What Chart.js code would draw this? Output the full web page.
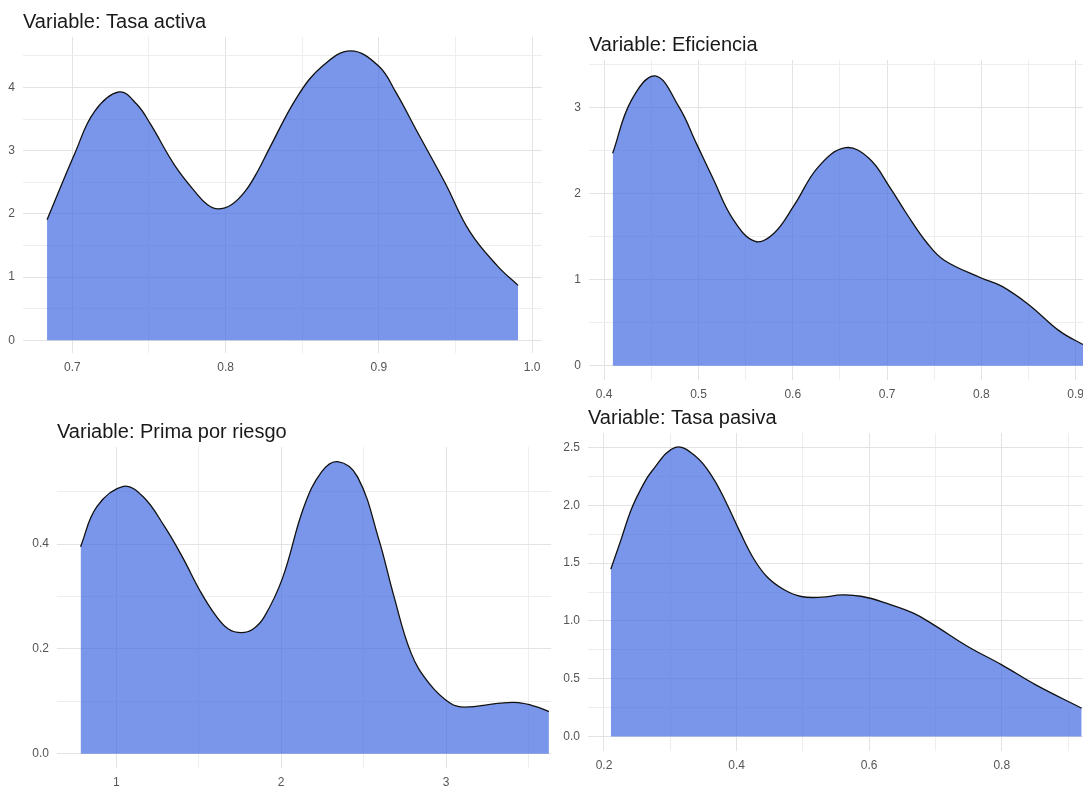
<!DOCTYPE html>
<html>
<head>
<meta charset="utf-8">
<script src="https://cdn.jsdelivr.net/npm/chart.js@4/dist/chart.umd.min.js"></script>
<style>
  html, body { margin: 0; padding: 0; background: #ffffff; overflow: hidden; width: 1083px; height: 787px; }
  .panel { position: absolute; }
  #clip3 { position: absolute; left: 0; top: 0; width: 551px; height: 787px; overflow: hidden; }
</style>
</head>
<body>
<div class="panel" id="p1" style="left:-17px; top:12px;"><canvas id="c1" width="559" height="371"></canvas></div>
<div class="panel" id="p2" style="left:549px; top:35px;"><canvas id="c2" width="559" height="375"></canvas></div>
<div id="clip3"><div class="panel" id="p3" style="left:17px; top:422px;"><canvas id="c3" width="555" height="376"></canvas></div></div>
<div class="panel" id="p4" style="left:548px; top:408px;"><canvas id="c4" width="560" height="373"></canvas></div>
<script>
// ---------- Data ----------
const titles = ["Variable: Tasa activa", "Variable: Eficiencia", "Variable: Prima por riesgo", "Variable: Tasa pasiva"];

const activaX = [0.6835, 0.7018, 0.7144, 0.7304, 0.7419, 0.7510, 0.7670, 0.7808, 0.7880, 0.7950, 0.8040, 0.8128, 0.8210, 0.8288, 0.8471, 0.8632, 0.8815, 0.8998, 0.9112, 0.9250, 0.9432, 0.9593, 0.9776, 0.9908];
const activaY = [1.91, 2.97, 3.62, 3.93, 3.74, 3.42, 2.76, 2.33, 2.15, 2.08, 2.15, 2.36, 2.68, 3.05, 3.87, 4.34, 4.58, 4.34, 3.92, 3.30, 2.49, 1.72, 1.17, 0.87];

const eficX = [0.409, 0.4288, 0.454, 0.4793, 0.498, 0.5153, 0.5369, 0.5603, 0.5801, 0.6017, 0.6269, 0.6558, 0.681, 0.7026, 0.7206, 0.7422, 0.7602, 0.7999, 0.8215, 0.8503, 0.8827, 0.9072, 0.912];
const eficY = [2.47, 3.085, 3.37, 3.01, 2.58, 2.18, 1.70, 1.445, 1.54, 1.87, 2.31, 2.535, 2.41, 2.08, 1.77, 1.43, 1.23, 1.02, 0.925, 0.71, 0.405, 0.25, 0.23];

const primaX = [0.783, 0.881, 1.043, 1.163, 1.293, 1.401, 1.509, 1.600, 1.680, 1.758, 1.830, 1.899, 2.008, 2.138, 2.246, 2.343, 2.463, 2.593, 2.679, 2.788, 2.896, 3.026, 3.113, 3.329, 3.438, 3.546, 3.624];
const primaY = [0.395, 0.471, 0.510, 0.490, 0.433, 0.375, 0.310, 0.265, 0.238, 0.231, 0.238, 0.262, 0.335, 0.471, 0.538, 0.557, 0.528, 0.408, 0.306, 0.192, 0.135, 0.0965, 0.089, 0.0965, 0.0975, 0.090, 0.0806];

const pasivaX = [0.2103, 0.2256, 0.241, 0.2564, 0.2718, 0.3077, 0.3385, 0.3641, 0.3846, 0.4051, 0.4256, 0.4462, 0.4718, 0.4974, 0.5282, 0.559, 0.5897, 0.6256, 0.6667, 0.6974, 0.7487, 0.8, 0.8513, 0.9205];
const pasivaY = [1.448, 1.701, 1.961, 2.148, 2.292, 2.50, 2.422, 2.240, 2.020, 1.770, 1.540, 1.380, 1.269, 1.211, 1.205, 1.225, 1.211, 1.153, 1.067, 0.966, 0.779, 0.620, 0.447, 0.245];

// ---------- Tick values / labels ----------
const activaXTicks = [0.7, 0.8, 0.9, 1.0];          const activaXLabels = ["0.7", "0.8", "0.9", "1.0"];
const activaXMinor = [0.75, 0.85, 0.95];
const activaYTicks = [0, 1, 2, 3, 4];               const activaYLabels = ["0", "1", "2", "3", "4"];
const activaYMinor = [0.5, 1.5, 2.5, 3.5, 4.5];

const eficXTicks = [0.4, 0.5, 0.6, 0.7, 0.8, 0.9]; const eficXLabels = ["0.4", "0.5", "0.6", "0.7", "0.8", "0.9"];
const eficXMinor = [0.45, 0.55, 0.65, 0.75, 0.85];
const eficYTicks = [0, 1, 2, 3];                    const eficYLabels = ["0", "1", "2", "3"];
const eficYMinor = [0.5, 1.5, 2.5, 3.5];

const primaXTicks = [1, 2, 3];                      const primaXLabels = ["1", "2", "3"];
const primaXMinor = [1.5, 2.5, 3.5];
const primaYTicks = [0, 0.2, 0.4];                  const primaYLabels = ["0.0", "0.2", "0.4"];
const primaYMinor = [0.1, 0.3, 0.5];

const pasivaXTicks = [0.2, 0.4, 0.6, 0.8];          const pasivaXLabels = ["0.2", "0.4", "0.6", "0.8"];
const pasivaXMinor = [0.3, 0.5, 0.7, 0.9];
const pasivaYTicks = [0, 0.5, 1.0, 1.5, 2.0, 2.5];  const pasivaYLabels = ["0.0", "0.5", "1.0", "1.5", "2.0", "2.5"];
const pasivaYMinor = [0.25, 0.75, 1.25, 1.75, 2.25];

// ---------- Axis ranges ----------
const activaXRange = [0.6678, 1.0064], activaYRange = [-0.2, 4.8];
const eficXRange = [0.3839, 0.9343],   eficYRange = [-0.166, 3.555];
const primaXRange = [0.640, 3.764],    primaYRange = [-0.027, 0.585];
const pasivaXRange = [0.1759, 0.9602], pasivaYRange = [-0.125, 2.625];

// ---------- Drawing ----------
const Y_W = 40, X_H = 30;
const FONT = "'Liberation Sans', Arial, Helvetica, sans-serif";
const near = (a, b) => Math.abs(a - b) < 1e-9;

function panel(canvasId, title, xs, ys, xr, yr, xMaj, xLab, xMin, yMaj, yLab, yMin) {
  const pts = xs.map((x, i) => ({ x: x, y: ys[i] }));
  const labelOf = (v, maj, lab) => { const i = maj.findIndex(a => near(a, v)); return i >= 0 ? lab[i] : ""; };
  const gridCol = maj => ctx => (ctx.tick && maj.some(a => near(a, ctx.tick.value))) ? "#e3e3e3" : "#eeeeee";
  const setTicks = (maj, min) => s => { s.ticks = maj.concat(min).sort((a, b) => a - b).map(v => ({ value: v })); };
  new Chart(document.getElementById(canvasId), {
    type: "line",
    data: { datasets: [{
      data: pts,
      borderColor: "#111111",
      borderWidth: 1.3,
      backgroundColor: "rgba(65,105,225,0.7)",
      fill: "origin",
      pointRadius: 0,
      tension: 0.4
    }] },
    options: {
      responsive: false,
      animation: false,
      events: [],
      layout: { padding: 0 },
      plugins: {
        legend: { display: false },
        tooltip: { enabled: false },
        title: {
          display: true, text: title, align: "start", fullSize: false,
          color: "#1a1a1a",
          font: { family: FONT, size: 20, weight: "normal", lineHeight: 1 },
          padding: { top: 0, bottom: 5 }
        }
      },
      scales: {
        x: {
          type: "linear", min: xr[0], max: xr[1], bounds: "data",
          afterBuildTicks: setTicks(xMaj, xMin),
          afterFit: s => { s.height = X_H; s.paddingLeft = 0; s.paddingRight = 0; },
          ticks: { autoSkip: false, maxRotation: 0, padding: 7, color: "#555555",
                   font: { family: FONT, size: 12 }, callback: v => labelOf(v, xMaj, xLab) },
          grid: { color: gridCol(xMaj), lineWidth: 1, drawTicks: false },
          border: { display: false }
        },
        y: {
          type: "linear", min: yr[0], max: yr[1], bounds: "data",
          afterBuildTicks: setTicks(yMaj, yMin),
          afterFit: s => { s.width = Y_W; s.paddingTop = 0; s.paddingBottom = 0; },
          ticks: { autoSkip: false, padding: 8, color: "#555555",
                   font: { family: FONT, size: 12 }, callback: v => labelOf(v, yMaj, yLab) },
          grid: { color: gridCol(yMaj), lineWidth: 1, drawTicks: false },
          border: { display: false }
        }
      }
    }
  });
}

panel("c1", titles[0], activaX, activaY, activaXRange, activaYRange,
      activaXTicks, activaXLabels, activaXMinor, activaYTicks, activaYLabels, activaYMinor);
panel("c2", titles[1], eficX, eficY, eficXRange, eficYRange,
      eficXTicks, eficXLabels, eficXMinor, eficYTicks, eficYLabels, eficYMinor);
panel("c3", titles[2], primaX, primaY, primaXRange, primaYRange,
      primaXTicks, primaXLabels, primaXMinor, primaYTicks, primaYLabels, primaYMinor);
panel("c4", titles[3], pasivaX, pasivaY, pasivaXRange, pasivaYRange,
      pasivaXTicks, pasivaXLabels, pasivaXMinor, pasivaYTicks, pasivaYLabels, pasivaYMinor);
</script>
</body>
</html>
